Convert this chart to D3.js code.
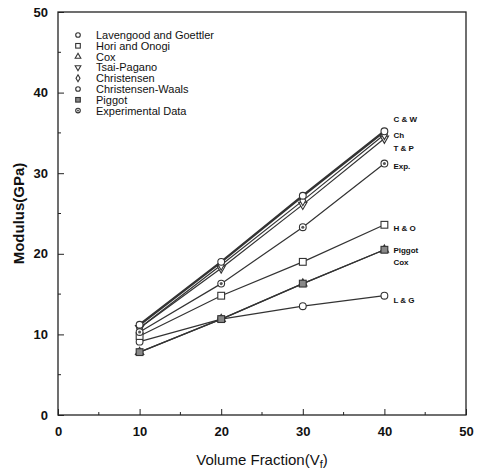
<!DOCTYPE html>
<html>
<head>
<meta charset="utf-8">
<script src="https://cdn.jsdelivr.net/npm/d3@7"></script>
<style>
  body { margin: 0; background: #fff; }
  text { font-family: "Liberation Sans", Arial, sans-serif; fill: #111; }
</style>
</head>
<body>
<svg width="477" height="474"></svg>
<script>
var width = 477,
    height = 474;

// data
var fractions = [10, 20, 30, 40];
var lavengood = [9.1, 11.9, 13.5, 14.8];
var horiOnogi = [9.8, 14.8, 19.0, 23.6];
var cox = [7.8, 11.9, 16.3, 20.5];
var tsaiPagano = [10.8, 18.2, 26.1, 34.3];
var christensen = [10.8, 18.6, 26.6, 34.8];
var christensenWaals = [11.2, 19.0, 27.2, 35.2];
var piggot = [7.8, 11.9, 16.3, 20.5];
var experimental = [10.3, 16.3, 23.3, 31.2];

var seriesNames = ["Lavengood and Goettler", "Hori and Onogi", "Cox", "Tsai-Pagano",
                   "Christensen", "Christensen-Waals", "Piggot", "Experimental Data"];
var endLabels = ["L & G", "H & O", "Cox", "T & P", "Ch", "C & W", "Piggot", "Exp."];
var xTicks = [0, 10, 20, 30, 40, 50];
var yTicks = [0, 10, 20, 30, 40, 50];

var series = [
  {name: seriesNames[0], values: lavengood, marker: "circle", label: endLabels[0], dy: 4},
  {name: seriesNames[1], values: horiOnogi, marker: "square", label: endLabels[1], dy: 3},
  {name: seriesNames[2], values: cox, marker: "triangle", label: endLabels[2], dy: 12},
  {name: seriesNames[3], values: tsaiPagano, marker: "triangleDown", label: endLabels[3], dy: 9},
  {name: seriesNames[4], values: christensen, marker: "diamond", label: endLabels[4], dy: 0},
  {name: seriesNames[5], values: christensenWaals, marker: "circle", label: endLabels[5], dy: -12},
  {name: seriesNames[6], values: piggot, marker: "squareFill", label: endLabels[6], dy: 0},
  {name: seriesNames[7], values: experimental, marker: "dotCircle", label: endLabels[7], dy: 2}
];

var svg = d3.select("svg");

var x = d3.scaleLinear().domain([0, 50]).range([58, 466]);
var y = d3.scaleLinear().domain([0, 50]).range([415, 12]);

// frame
svg.append("rect")
    .attr("x", x(0)).attr("y", y(50))
    .attr("width", x(50) - x(0)).attr("height", y(0) - y(50))
    .attr("fill", "none").attr("stroke", "#222").attr("stroke-width", 1.3);

// axes with inward ticks
var xAxis = svg.append("g")
    .attr("transform", "translate(0," + y(0) + ")")
    .call(d3.axisBottom(x).tickValues(xTicks).tickSize(-6).tickPadding(12));
var yAxis = svg.append("g")
    .attr("transform", "translate(" + x(0) + ",0)")
    .call(d3.axisLeft(y).tickValues(yTicks).tickSize(-6).tickPadding(10));
[xAxis, yAxis].forEach(function (a) {
  a.select(".domain").remove();
  a.selectAll("line").attr("stroke", "#222");
  a.selectAll("text").style("font-size", "13px").style("font-weight", "bold")
      .style("font-family", "Liberation Sans, Arial, sans-serif").attr("fill", "#111");
});

// minor ticks
svg.append("g").selectAll("line")
    .data([5, 15, 25, 35, 45]).enter().append("line")
    .attr("x1", function (d) { return x(d); }).attr("x2", function (d) { return x(d); })
    .attr("y1", y(0)).attr("y2", y(0) - 3).attr("stroke", "#222");
svg.append("g").selectAll("line")
    .data([5, 15, 25, 35, 45]).enter().append("line")
    .attr("y1", function (d) { return y(d); }).attr("y2", function (d) { return y(d); })
    .attr("x1", x(0)).attr("x2", x(0) + 3).attr("stroke", "#222");

// axis titles
svg.append("text")
    .attr("x", (x(0) + x(50)) / 2).attr("y", 465)
    .attr("text-anchor", "middle")
    .style("font-size", "15px")
    .html('Volume Fraction(V<tspan dy="3" font-size="11px">f</tspan><tspan dy="-3">)</tspan>');
svg.append("text")
    .attr("transform", "translate(24," + (y(25)) + ") rotate(-90)")
    .attr("text-anchor", "middle")
    .style("font-size", "15px").style("font-weight", "bold")
    .text("Modulus(GPa)");

// lines
var line = d3.line()
    .x(function (d, i) { return x(fractions[i]); })
    .y(function (d) { return y(d); });

series.forEach(function (s, k) {
  svg.append("path")
      .datum(s.values)
      .attr("d", line)
      .attr("fill", "none")
      .attr("stroke", "#333")
      .attr("stroke-width", k == 5 ? 2.4 : 1.2);
});

function drawMarker(g, type, cx, cy, r) {
  var sz = r * r * 2.6;
  if (type == "circle" || type == "dotCircle") {
    g.append("circle").attr("cx", cx).attr("cy", cy).attr("r", r)
        .attr("fill", "#fff").attr("stroke", "#333").attr("stroke-width", 1.1);
    if (type == "dotCircle")
      g.append("circle").attr("cx", cx).attr("cy", cy).attr("r", r * 0.45).attr("fill", "#555");
  } else if (type == "square" || type == "squareFill") {
    g.append("rect").attr("x", cx - r).attr("y", cy - r).attr("width", 2 * r).attr("height", 2 * r)
        .attr("fill", type == "squareFill" ? "#888" : "#fff").attr("stroke", "#333").attr("stroke-width", 1.1);
  } else if (type == "triangle") {
    g.append("path").attr("d", d3.symbol().type(d3.symbolTriangle).size(sz)())
        .attr("transform", "translate(" + cx + "," + cy + ")")
        .attr("fill", "#fff").attr("stroke", "#333").attr("stroke-width", 1.1);
  } else if (type == "triangleDown") {
    g.append("path").attr("d", d3.symbol().type(d3.symbolTriangle).size(sz)())
        .attr("transform", "translate(" + cx + "," + cy + ") rotate(180)")
        .attr("fill", "#fff").attr("stroke", "#333").attr("stroke-width", 1.1);
  } else if (type == "diamond") {
    g.append("path").attr("d", d3.symbol().type(d3.symbolDiamond).size(sz)())
        .attr("transform", "translate(" + cx + "," + cy + ")")
        .attr("fill", "#fff").attr("stroke", "#333").attr("stroke-width", 1.1);
  }
}

// markers
var markers = svg.append("g");
series.forEach(function (s) {
  s.values.forEach(function (v, i) {
    drawMarker(markers, s.marker, x(fractions[i]), y(v), 3.4);
  });
});

// end labels
series.forEach(function (s) {
  svg.append("text")
      .attr("x", x(40) + 9)
      .attr("y", y(s.values[3]) + 3 + s.dy)
      .style("font-size", "8px").style("font-weight", "bold")
      .text(s.label);
});

// legend
var legend = svg.append("g");
series.forEach(function (s, i) {
  var ly = 35 + i * 10.8;
  drawMarker(legend, s.marker, 78, ly, 2.3);
  legend.append("text")
      .attr("x", 96).attr("y", ly + 4)
      .style("font-size", "11px")
      .text(s.name);
});
</script>
</body>
</html>
